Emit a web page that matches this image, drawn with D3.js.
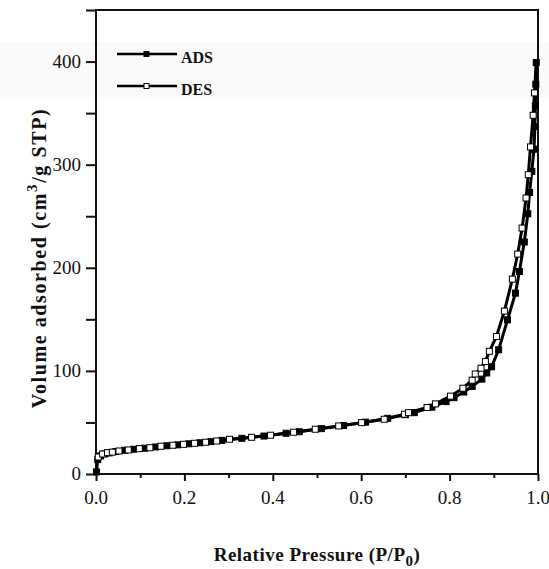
<!DOCTYPE html>
<html>
<head>
<meta charset="utf-8">
<script src="https://cdn.jsdelivr.net/npm/d3@7"></script>
<style>
  body { margin: 0; background: #fff; }
  svg text { font-family: "Liberation Serif", "DejaVu Serif", serif; fill: #111; }
</style>
</head>
<body>
<div id="chart"></div>
<script>
// adsorption branch
var adsP = [0.001,0.004,0.01,0.02,0.03,0.045,0.065,0.085,0.11,0.135,0.16,0.185,0.21,0.235,0.26,0.285,
            0.33,0.38,0.43,0.46,0.51,0.56,0.61,0.66,0.70,0.72,0.76,0.792,0.81,0.832,0.851,0.873,0.884,
            0.895,0.911,0.931,0.949,0.958,0.969,0.977,0.981,0.986,0.991,0.993,0.994,0.995,0.996];
var adsV = [2,14,17.5,19.5,20.5,21.8,23,24,25,26.2,27.4,28.3,29.3,30.3,31.4,32.6,
            34.6,36.8,39.5,41,44,47,50.3,54,57.5,59.5,64.8,70.2,74,79.5,85,92,98,
            104,120.5,149.5,175.4,196.4,225,252.4,273,293.5,315,337,357,378,399];
// desorption branch (starts from the last adsorption point)
var desP = [0.005,0.015,0.026,0.037,0.052,0.073,0.098,0.122,0.147,0.174,0.198,0.223,0.248,0.273,0.302,
            0.352,0.395,0.447,0.496,0.549,0.601,0.652,0.698,0.707,0.749,0.768,0.802,0.830,0.851,0.858,
            0.871,0.881,0.890,0.906,0.924,0.942,0.954,0.964,0.973,0.978,0.983,0.989,0.992,0.996];
var desV = [16.5,19.4,20.7,21.2,22.3,23.3,24.6,25.5,26.9,27.9,28.8,29.8,30.8,32,33.7,
            35.6,37.6,40.5,43.4,46.6,49.8,53.1,58,59.5,64.5,68,75.5,83.2,91,97,
            102.6,109,119,133.3,158,189,213.3,238.5,267.7,290.3,317.2,347.9,369.6,399];
var xTicks = [0, 0.2, 0.4, 0.6, 0.8, 1.0];
var yTicks = [0, 100, 200, 300, 400];

var w = 549, h = 569;
var padL = 96, padR = 538, padT = 10, padB = 474;

var svg = d3.select("#chart").append("svg")
    .attr("width", w).attr("height", h);

// faint scanner band
svg.append("rect").attr("x", 0).attr("y", 42).attr("width", w).attr("height", 55)
    .attr("fill", "#fafafa");

var xScale = d3.scaleLinear().domain([0, 1]).range([padL, padR]);
var yScale = d3.scaleLinear().domain([0, 450]).range([padB, padT]);

// axes
var xAxis = d3.axisBottom(xScale).tickValues(d3.range(0, 1.01, 0.1)).tickSize(0).tickFormat("");
var gx = svg.append("g").attr("transform", "translate(0," + padB + ")").call(xAxis);
gx.selectAll(".tick line").remove();
gx.select(".domain").remove();
gx.selectAll(".tick").append("line")
    .attr("y2", function(d, i) { return i % 2 == 0 ? 7 : 4; })
    .attr("stroke", "#111").attr("stroke-width", 2);
svg.selectAll("xlab").data(xTicks).enter().append("text")
    .attr("x", function(d) { return xScale(d); })
    .attr("y", 504)
    .attr("text-anchor", "middle")
    .style("font-size", "19px")
    .text(function(d) { return d.toFixed(1); });

var yAxis = d3.axisLeft(yScale).tickValues(d3.range(0, 451, 50)).tickSize(10).tickFormat("");
var gy = svg.append("g").attr("transform", "translate(" + padL + ",0)").call(yAxis);
gy.select(".domain").remove();
gy.selectAll(".tick line").attr("stroke", "#111").attr("stroke-width", 2);
svg.selectAll("ylab").data(yTicks).enter().append("text")
    .attr("x", 81)
    .attr("y", function(d) { return yScale(d) + 6; })
    .attr("text-anchor", "end")
    .style("font-size", "19px")
    .text(function(d) { return d; });

// frame
svg.append("rect")
    .attr("x", padL).attr("y", padT)
    .attr("width", padR - padL).attr("height", padB - padT)
    .attr("fill", "none").attr("stroke", "#111").attr("stroke-width", 2);

var ads = adsP.map(function(p, i) { return {p: p, v: adsV[i]}; });
var des = desP.map(function(p, i) { return {p: p, v: desV[i]}; });

var line = d3.line()
    .x(function(d) { return xScale(d.p); })
    .y(function(d) { return yScale(d.v); });

function drawLine(data) {
    svg.append("path").datum(data)
        .attr("d", line)
        .attr("fill", "none").attr("stroke", "#000").attr("stroke-width", 3);
}
function drawMarkers(data, fill) {
    svg.selectAll(null).data(data).enter().append("rect")
        .attr("x", function(d) { return xScale(d.p) - 3; })
        .attr("y", function(d) { return yScale(d.v) - 3; })
        .attr("width", 6).attr("height", 6)
        .attr("fill", fill).attr("stroke", "#000").attr("stroke-width", 1);
}
drawLine(ads);
drawLine(des);
drawMarkers(ads, "#000");
// shared top point stays filled
drawMarkers(des.slice(0, -1), "#fff");

// legend
var keys = ["ADS", "DES"];
var fills = ["#000", "#fff"];
var lg = svg.selectAll("legend").data(keys).enter().append("g")
    .attr("transform", function(d, i) { return "translate(117," + (54 + i * 32) + ")"; });
lg.append("line").attr("x1", 0).attr("x2", 60)
    .attr("stroke", "#000").attr("stroke-width", 2.5);
lg.append("rect").attr("x", 27).attr("y", -2.5).attr("width", 5).attr("height", 5)
    .attr("fill", function(d, i) { return fills[i]; })
    .attr("stroke", "#000").attr("stroke-width", 1);
lg.append("text").attr("x", 64).attr("y", 8.5)
    .style("font-size", "16px").style("font-weight", "bold")
    .text(function(d) { return d; });

// axis titles
var xt = svg.append("text")
    .attr("x", 317).attr("y", 561)
    .attr("text-anchor", "middle")
    .style("font-size", "19px").style("font-weight", "bold")
    .style("letter-spacing", "0.5px");
xt.append("tspan").text("Relative Pressure (P/P");
xt.append("tspan").attr("dy", 5).style("font-size", "15px").text("0");
xt.append("tspan").attr("dy", -5).text(")");

var yt = svg.append("text")
    .attr("transform", "translate(46,258) rotate(-90)")
    .attr("text-anchor", "middle")
    .style("font-size", "20px").style("font-weight", "bold")
    .style("letter-spacing", "1.6px");
yt.append("tspan").text("Volume adsorbed (cm");
yt.append("tspan").attr("dy", -9).style("font-size", "15px").text("3");
yt.append("tspan").attr("dy", 9).text("/g STP)");
</script>
</body>
</html>
